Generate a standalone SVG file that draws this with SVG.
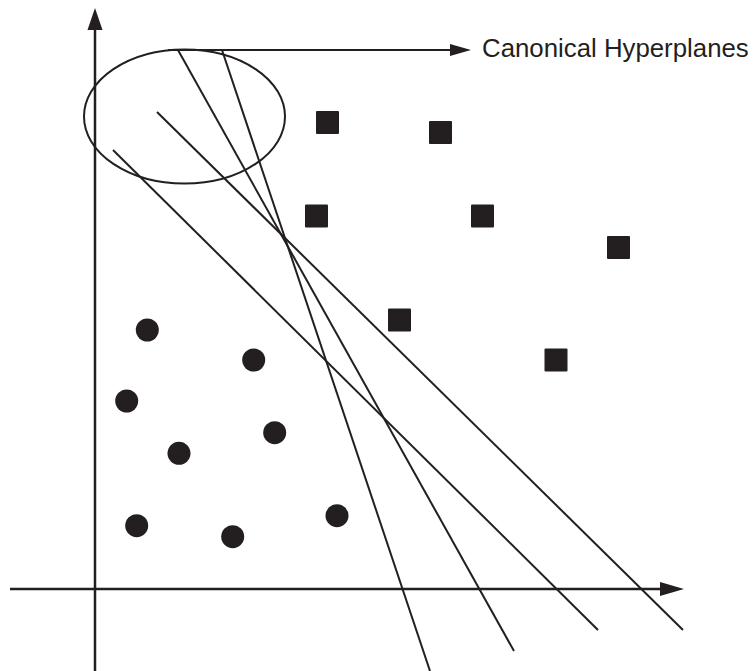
<svg xmlns="http://www.w3.org/2000/svg" width="755" height="671" viewBox="0 0 755 671">
<style>
.ln{stroke:#231f20;stroke-width:2;fill:none;stroke-linecap:butt}
.ax{stroke:#231f20;stroke-width:2.5;fill:none}
.ah{fill:#231f20}
.sq{fill:#231f20}
.ci{fill:#231f20}
.lbl{font-family:"Liberation Sans",Arial,sans-serif;font-size:25.8px;fill:#231f20}
</style>
<rect width="755" height="671" fill="#fff"/>
<g id="axes">
<line class="ax" x1="95" y1="671" x2="95" y2="28"/>
<polygon class="ah" points="95,8 87.5,30 102.5,30"/>
<line class="ax" x1="10" y1="589" x2="662" y2="589"/>
<polygon class="ah" points="684,589 660,582 660,596"/>
</g>
<g id="ellipse">
<ellipse class="ln" cx="184.5" cy="116.5" rx="100.5" ry="67"/>
</g>
<g id="connectors">
<line class="ln" x1="168" y1="50" x2="452" y2="50"/>
<polygon class="ah" points="471,50 450,44 450,56"/>
<line class="ln" x1="178" y1="50" x2="514" y2="651"/>
<line class="ln" x1="222" y1="50" x2="430" y2="671"/>
<line class="ln" x1="157" y1="112" x2="683" y2="630"/>
<line class="ln" x1="113" y1="150" x2="598" y2="630"/>
</g>
<g id="label">
<text class="lbl" x="482" y="57">Canonical Hyperplanes</text>
</g>
<g id="squares">
<rect class="sq" x="316" y="111" width="23" height="23" rx="1"/>
<rect class="sq" x="429" y="121" width="23" height="23" rx="1"/>
<rect class="sq" x="305" y="204.5" width="23" height="23" rx="1"/>
<rect class="sq" x="471" y="204.5" width="23" height="23" rx="1"/>
<rect class="sq" x="607" y="236" width="23" height="23" rx="1"/>
<rect class="sq" x="388" y="308.5" width="23" height="23" rx="1"/>
<rect class="sq" x="544.5" y="348.5" width="23" height="23" rx="1"/>
</g>
<g id="circles">
<circle class="ci" cx="147.3" cy="330" r="11.5"/>
<circle class="ci" cx="253.7" cy="360" r="11.5"/>
<circle class="ci" cx="126.7" cy="401" r="11.5"/>
<circle class="ci" cx="179" cy="453.3" r="11.5"/>
<circle class="ci" cx="274.7" cy="432.7" r="11.5"/>
<circle class="ci" cx="136.7" cy="525.7" r="11.5"/>
<circle class="ci" cx="232.7" cy="536.7" r="11.5"/>
<circle class="ci" cx="337" cy="515.7" r="11.5"/>
</g>
</svg>
